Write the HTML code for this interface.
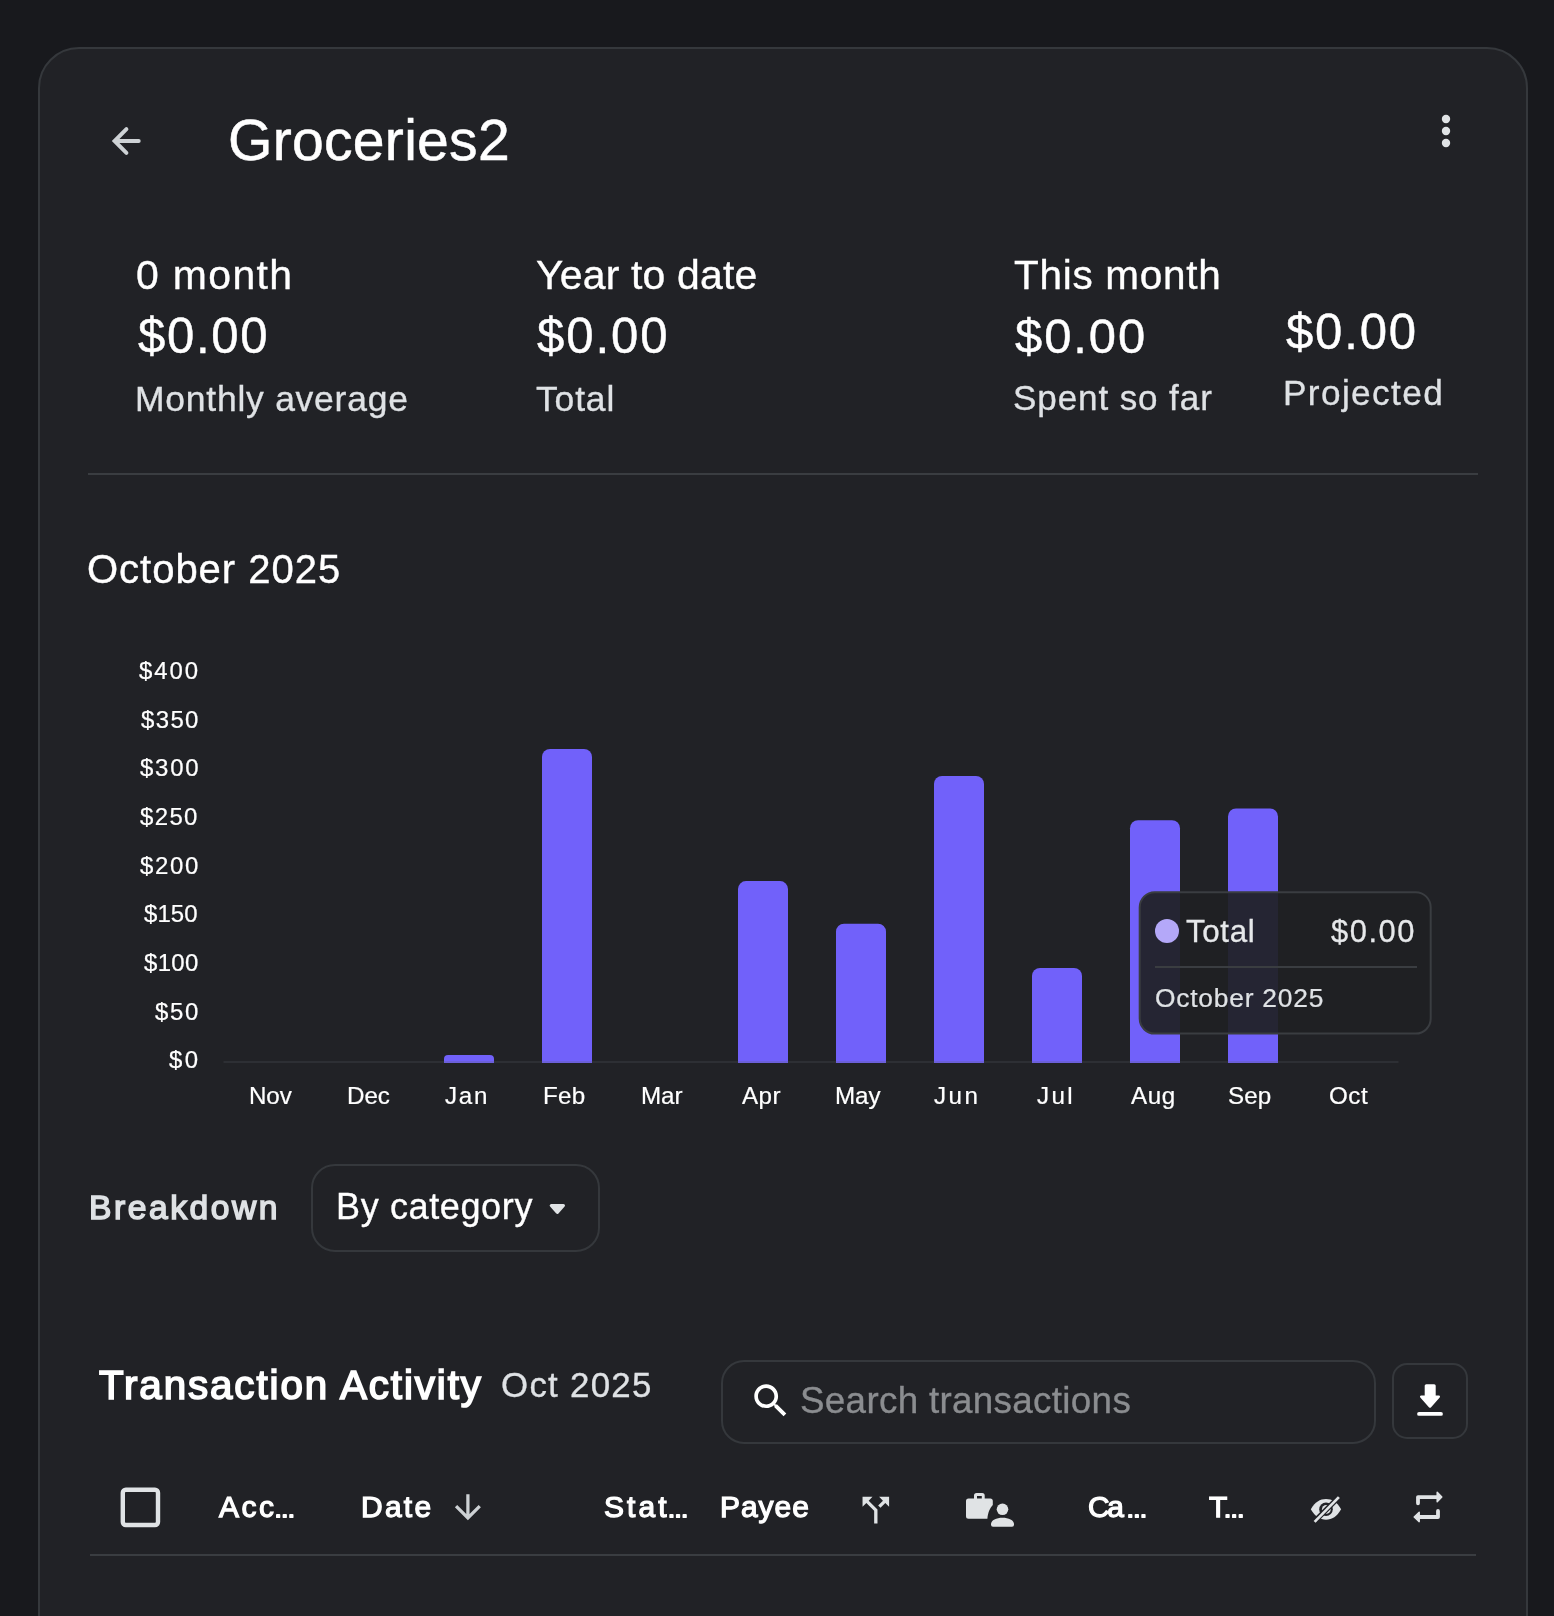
<!DOCTYPE html>
<html><head><meta charset="utf-8"><title>Groceries2</title>
<style>
html,body{margin:0;padding:0;}
body{width:1554px;height:1616px;overflow:hidden;background:#18191d;position:relative;font-family:"Liberation Sans",sans-serif;}
.card{position:absolute;left:38px;top:47px;width:1490px;height:1700px;box-sizing:border-box;border:2px solid #35383c;border-radius:41px;background:#212226;}
.t{position:absolute;white-space:nowrap;will-change:transform;}
.hr{position:absolute;height:2px;background:#3a3d41;}
.box{position:absolute;box-sizing:border-box;border:2px solid #35383c;}
svg.ov{position:absolute;left:0;top:0;}
</style></head>
<body>
<div class="card"></div>
<div class="hr" style="left:88px;top:473px;width:1390px"></div>
<div class="hr" style="left:90px;top:1554px;width:1386px"></div>
<div class="box" style="left:310.5px;top:1164px;width:289px;height:87.5px;border-radius:24px"></div>
<div class="box" style="left:721px;top:1360px;width:655px;height:84px;border-radius:23px"></div>
<div class="box" style="left:1392px;top:1363px;width:76px;height:76px;border-radius:15px"></div>
<svg class="ov" width="1554" height="1616" viewBox="0 0 1554 1616">
<!-- back arrow -->
<path d="M138.7 141 H116 M126.4 129.2 L114.6 141 L126.4 152.8" fill="none" stroke="#ced2d5" stroke-width="4" stroke-linecap="round" stroke-linejoin="miter"/>
<!-- more vert -->
<circle cx="1446" cy="119" r="4.2" fill="#e0e3e5"/><circle cx="1446" cy="131" r="4.2" fill="#e0e3e5"/><circle cx="1446" cy="143" r="4.2" fill="#e0e3e5"/>
<!-- bars -->
<path d="M444 1063 V1058.95 A4.05 4.05 0 0 1 448.05 1054.90 H489.95 A4.05 4.05 0 0 1 494 1058.95 V1063 Z" fill="#7161fa"/>
<path d="M542 1063 V757.00 A8.00 8.00 0 0 1 550.00 749.00 H584.00 A8.00 8.00 0 0 1 592 757.00 V1063 Z" fill="#7161fa"/>
<path d="M738 1063 V889.10 A8.00 8.00 0 0 1 746.00 881.10 H780.00 A8.00 8.00 0 0 1 788 889.10 V1063 Z" fill="#7161fa"/>
<path d="M836 1063 V931.70 A8.00 8.00 0 0 1 844.00 923.70 H878.00 A8.00 8.00 0 0 1 886 931.70 V1063 Z" fill="#7161fa"/>
<path d="M934 1063 V784.00 A8.00 8.00 0 0 1 942.00 776.00 H976.00 A8.00 8.00 0 0 1 984 784.00 V1063 Z" fill="#7161fa"/>
<path d="M1032 1063 V975.90 A8.00 8.00 0 0 1 1040.00 967.90 H1074.00 A8.00 8.00 0 0 1 1082 975.90 V1063 Z" fill="#7161fa"/>
<path d="M1130 1063 V828.20 A8.00 8.00 0 0 1 1138.00 820.20 H1172.00 A8.00 8.00 0 0 1 1180 828.20 V1063 Z" fill="#7161fa"/>
<path d="M1228 1063 V816.40 A8.00 8.00 0 0 1 1236.00 808.40 H1270.00 A8.00 8.00 0 0 1 1278 816.40 V1063 Z" fill="#7161fa"/>
<rect x="223.5" y="1061" width="1175" height="2" fill="rgba(90,94,105,0.22)"/>
<!-- tooltip -->
<rect x="1139.7" y="892.2" width="291" height="141.4" rx="15" fill="rgba(31,32,36,0.93)" stroke="#3a3d41" stroke-width="2"/>
<rect x="1155" y="966" width="262" height="2" fill="#3a3d41"/>
<circle cx="1167" cy="931" r="12" fill="#b4a8f9"/>
<!-- dropdown caret -->
<path d="M551.2 1205.6 H563.5 L557.35 1212.4 Z" fill="#e0e3e5" stroke="#e0e3e5" stroke-width="3" stroke-linejoin="round"/>
<!-- search icon -->
<g transform="translate(748.8 1378.8) scale(1.83)"><path fill="#ffffff" d="M15.5 14h-.79l-.28-.27C15.41 12.59 16 11.11 16 9.5 16 5.91 13.09 3 9.5 3S3 5.91 3 9.5 5.91 16 9.5 16c1.61 0 3.09-.59 4.23-1.57l.27.28v.79l5 4.99L20.49 19l-4.99-5zm-6 0C7.01 14 5 11.99 5 9.5S7.01 5 9.5 5 14 7.01 14 9.5 11.99 14 9.5 14z"/></g>
<!-- download icon -->
<rect x="1424.7" y="1384.2" width="11" height="14" rx="1.6" fill="#ffffff"/>
<path d="M1421.2 1396.6 H1438.8 L1430 1406.6 Z" fill="#ffffff" stroke="#ffffff" stroke-width="2.4" stroke-linejoin="round"/>
<rect x="1417.1" y="1412" width="25.8" height="3.8" rx="1.9" fill="#ffffff"/>
<!-- checkbox -->
<rect x="122.8" y="1489.7" width="35.2" height="35.3" rx="3" fill="none" stroke="#e0e3e5" stroke-width="4.4"/>
<!-- date arrow -->
<g transform="translate(448.4 1487.7) scale(1.625)"><path fill="#cdd1d4" d="M20 12l-1.41-1.41L13 16.17V4h-2v12.17l-5.58-5.59L4 12l8 8 8-8z"/></g>
<!-- split icon -->
<g transform="translate(855.9 1490.2) scale(1.66)"><path fill="#e0e3e5" d="M14 4l2.29 2.29-2.88 2.88 1.42 1.42 2.88-2.88L20 10V4zm-4 0H4v6l2.29-2.29 4.71 4.7V20h2v-8.41l-5.29-5.3z"/></g>
<!-- briefcase + person -->
<path fill="#e0e3e5" fill-rule="evenodd" d="M968.5 1498.4 H974 V1495.5 Q974 1493 976.5 1493 H982.2 Q984.7 1493 984.7 1495.5 V1498.4 H990.3 Q992.8 1498.4 992.8 1500.9 V1505 C990 1508 988 1512 987.4 1518.7 H968.5 Q966 1518.7 966 1516.2 V1500.9 Q966 1498.4 968.5 1498.4 Z M977 1495.9 V1498.4 H981.8 V1495.9 Z"/>
<circle cx="1002.5" cy="1509.3" r="5.8" fill="#e0e3e5"/>
<path fill="#e0e3e5" d="M991 1524 C991 1520 996.5 1517.7 1002.5 1517.7 C1008.5 1517.7 1014 1520 1014 1524 V1524.8 Q1014 1526.8 1012 1526.8 H993 Q991 1526.8 991 1524.8 Z"/>
<!-- eye slash -->
<path fill="#e0e3e5" d="M1310.8 1509.3 C1315 1502 1320 1499 1326 1499 C1332 1499 1337 1502 1341.1 1509.3 C1337 1516.6 1332 1519.7 1326 1519.7 C1320 1519.7 1315 1516.6 1310.8 1509.3 Z"/>
<circle cx="1326" cy="1509.2" r="6.8" fill="#212226"/>
<circle cx="1326.3" cy="1509.4" r="4.4" fill="#e0e3e5"/>
<line x1="1339.6" y1="1496.4" x2="1313.6" y2="1522.4" stroke="#212226" stroke-width="5.2"/>
<line x1="1338.9" y1="1497.1" x2="1314.6" y2="1521.9" stroke="#e0e3e5" stroke-width="2.7"/>
<!-- repeat -->
<path d="M1418 1503.3 V1497.1 H1437.5 M1438 1511 V1517 H1418.5" fill="none" stroke="#e0e3e5" stroke-width="3.8" stroke-linecap="round" stroke-linejoin="round"/>
<path d="M1437.2 1492.3 L1441.8 1497.1 L1437.2 1501.8 Z" fill="#e0e3e5" stroke="#e0e3e5" stroke-width="1.5" stroke-linejoin="round"/>
<path d="M1419.2 1512.2 L1414.2 1517 L1419.2 1521.6 Z" fill="#e0e3e5" stroke="#e0e3e5" stroke-width="1.5" stroke-linejoin="round"/>
<rect x="276.0" y="1513.9" width="4.3" height="4.2" rx="0.9" fill="#ffffff"/>
<rect x="282.6" y="1513.9" width="4.3" height="4.2" rx="0.9" fill="#ffffff"/>
<rect x="289.2" y="1513.9" width="4.3" height="4.2" rx="0.9" fill="#ffffff"/>
<rect x="669.3" y="1513.9" width="4.3" height="4.2" rx="0.9" fill="#ffffff"/>
<rect x="675.9" y="1513.9" width="4.3" height="4.2" rx="0.9" fill="#ffffff"/>
<rect x="682.5" y="1513.9" width="4.3" height="4.2" rx="0.9" fill="#ffffff"/>
<rect x="1128.1" y="1513.9" width="4.3" height="4.2" rx="0.9" fill="#ffffff"/>
<rect x="1134.7" y="1513.9" width="4.3" height="4.2" rx="0.9" fill="#ffffff"/>
<rect x="1141.3" y="1513.9" width="4.3" height="4.2" rx="0.9" fill="#ffffff"/>
<rect x="1225.4" y="1513.9" width="4.3" height="4.2" rx="0.9" fill="#ffffff"/>
<rect x="1232.0" y="1513.9" width="4.3" height="4.2" rx="0.9" fill="#ffffff"/>
<rect x="1238.6" y="1513.9" width="4.3" height="4.2" rx="0.9" fill="#ffffff"/>
</svg>
<div class="t" style="left:227.90px;top:111.74px;font-size:57.11px;line-height:57.11px;font-weight:400;color:#ffffff;-webkit-text-stroke:0.52px #ffffff;letter-spacing:0.267px;">Groceries2</div>
<div class="t" style="left:136.35px;top:255.43px;font-size:40.91px;line-height:40.91px;font-weight:400;color:#ffffff;-webkit-text-stroke:0.37px #ffffff;letter-spacing:1.371px;">0 month</div>
<div class="t" style="left:137.53px;top:312.08px;font-size:49.07px;line-height:49.07px;font-weight:400;color:#ffffff;-webkit-text-stroke:0.45px #ffffff;letter-spacing:1.684px;">$0.00</div>
<div class="t" style="left:135.12px;top:381.65px;font-size:35.48px;line-height:35.48px;font-weight:400;color:#dfe2e5;-webkit-text-stroke:0.32px #dfe2e5;letter-spacing:0.761px;">Monthly average</div>
<div class="t" style="left:536.37px;top:255.43px;font-size:40.91px;line-height:40.91px;font-weight:400;color:#ffffff;-webkit-text-stroke:0.37px #ffffff;letter-spacing:0.200px;">Year to date</div>
<div class="t" style="left:536.73px;top:312.08px;font-size:49.07px;line-height:49.07px;font-weight:400;color:#ffffff;-webkit-text-stroke:0.45px #ffffff;letter-spacing:1.959px;">$0.00</div>
<div class="t" style="left:536.45px;top:381.65px;font-size:35.48px;line-height:35.48px;font-weight:400;color:#dfe2e5;-webkit-text-stroke:0.32px #dfe2e5;letter-spacing:0.840px;">Total</div>
<div class="t" style="left:1014.18px;top:255.12px;font-size:40.48px;line-height:40.48px;font-weight:400;color:#ffffff;-webkit-text-stroke:0.37px #ffffff;letter-spacing:0.734px;">This month</div>
<div class="t" style="left:1015.14px;top:311.99px;font-size:48.93px;line-height:48.93px;font-weight:400;color:#ffffff;-webkit-text-stroke:0.45px #ffffff;letter-spacing:1.946px;">$0.00</div>
<div class="t" style="left:1013.41px;top:380.35px;font-size:35.04px;line-height:35.04px;font-weight:400;color:#dfe2e5;-webkit-text-stroke:0.32px #dfe2e5;letter-spacing:0.900px;">Spent so far</div>
<div class="t" style="left:1285.73px;top:307.58px;font-size:49.07px;line-height:49.07px;font-weight:400;color:#ffffff;-webkit-text-stroke:0.45px #ffffff;letter-spacing:1.809px;">$0.00</div>
<div class="t" style="left:1283.34px;top:375.45px;font-size:35.19px;line-height:35.19px;font-weight:400;color:#dfe2e5;-webkit-text-stroke:0.32px #dfe2e5;letter-spacing:1.389px;">Projected</div>
<div class="t" style="left:87.48px;top:549.02px;font-size:40.04px;line-height:40.04px;font-weight:400;color:#ffffff;-webkit-text-stroke:0.37px #ffffff;letter-spacing:0.961px;">October 2025</div>
<div class="t" style="left:1185.82px;top:916.07px;font-size:31.32px;line-height:31.32px;font-weight:400;color:#e6e8ea;-webkit-text-stroke:0.29px #e6e8ea;letter-spacing:0.633px;">Total</div>
<div class="t" style="left:1331.13px;top:917.07px;font-size:30.89px;line-height:30.89px;font-weight:400;color:#e6e8ea;-webkit-text-stroke:0.28px #e6e8ea;letter-spacing:1.535px;">$0.00</div>
<div class="t" style="left:1154.90px;top:984.89px;font-size:26.37px;line-height:26.37px;font-weight:400;color:#dfe2e5;-webkit-text-stroke:0.24px #dfe2e5;letter-spacing:0.784px;">October 2025</div>
<div class="t" style="left:88.86px;top:1190.96px;font-size:33.62px;line-height:33.62px;font-weight:400;color:#dfe2e5;-webkit-text-stroke:1.5px #dfe2e5;letter-spacing:2.549px;">Breakdown</div>
<div class="t" style="left:335.78px;top:1189.35px;font-size:36.04px;line-height:36.04px;font-weight:400;color:#ffffff;-webkit-text-stroke:0.33px #ffffff;letter-spacing:0.614px;">By category</div>
<div class="t" style="left:99.24px;top:1366.36px;font-size:40.29px;line-height:40.29px;font-weight:400;color:#ffffff;-webkit-text-stroke:1.7px #ffffff;letter-spacing:1.917px;">Transaction Activity</div>
<div class="t" style="left:500.62px;top:1368.25px;font-size:34.83px;line-height:34.83px;font-weight:400;color:#dfe2e5;-webkit-text-stroke:0.32px #dfe2e5;letter-spacing:1.287px;">Oct 2025</div>
<div class="t" style="left:800.33px;top:1383.43px;font-size:36.75px;line-height:36.75px;font-weight:400;color:#8b8d90;-webkit-text-stroke:0.34px #8b8d90;letter-spacing:0.331px;">Search transactions</div>
<div class="t" style="left:218.62px;top:1492.48px;font-size:29.93px;line-height:29.93px;font-weight:400;color:#ffffff;-webkit-text-stroke:1.25px #ffffff;letter-spacing:2.534px;">Acc</div>
<div class="t" style="left:361.33px;top:1492.48px;font-size:29.93px;line-height:29.93px;font-weight:400;color:#ffffff;-webkit-text-stroke:1.25px #ffffff;letter-spacing:2.298px;">Date</div>
<div class="t" style="left:604.03px;top:1492.48px;font-size:29.93px;line-height:29.93px;font-weight:400;color:#ffffff;-webkit-text-stroke:1.25px #ffffff;letter-spacing:3.092px;">Stat</div>
<div class="t" style="left:720.33px;top:1492.48px;font-size:29.93px;line-height:29.93px;font-weight:400;color:#ffffff;-webkit-text-stroke:1.25px #ffffff;letter-spacing:1.012px;">Payee</div>
<div class="t" style="left:1088.43px;top:1492.48px;font-size:29.93px;line-height:29.93px;font-weight:400;color:#ffffff;-webkit-text-stroke:1.25px #ffffff;letter-spacing:-2.461px;">Ca</div>
<div class="t" style="left:1208.83px;top:1492.48px;font-size:29.93px;line-height:29.93px;font-weight:400;color:#ffffff;-webkit-text-stroke:1.25px #ffffff;">T</div>
<div class="t" style="left:138.62px;top:658.80px;font-size:23.97px;line-height:23.97px;font-weight:400;color:#ffffff;-webkit-text-stroke:0.22px #ffffff;letter-spacing:1.891px;">$400</div>
<div class="t" style="left:140.67px;top:707.50px;font-size:23.97px;line-height:23.97px;font-weight:400;color:#ffffff;-webkit-text-stroke:0.22px #ffffff;letter-spacing:1.374px;">$350</div>
<div class="t" style="left:140.47px;top:756.21px;font-size:23.97px;line-height:23.97px;font-weight:400;color:#ffffff;-webkit-text-stroke:0.22px #ffffff;letter-spacing:1.741px;">$300</div>
<div class="t" style="left:140.47px;top:804.90px;font-size:23.97px;line-height:23.97px;font-weight:400;color:#ffffff;-webkit-text-stroke:0.22px #ffffff;letter-spacing:1.374px;">$250</div>
<div class="t" style="left:140.47px;top:853.60px;font-size:23.97px;line-height:23.97px;font-weight:400;color:#ffffff;-webkit-text-stroke:0.22px #ffffff;letter-spacing:1.641px;">$200</div>
<div class="t" style="left:144.37px;top:902.30px;font-size:23.97px;line-height:23.97px;font-weight:400;color:#ffffff;-webkit-text-stroke:0.22px #ffffff;letter-spacing:0.107px;">$150</div>
<div class="t" style="left:144.37px;top:951.00px;font-size:23.97px;line-height:23.97px;font-weight:400;color:#ffffff;-webkit-text-stroke:0.22px #ffffff;letter-spacing:0.341px;">$100</div>
<div class="t" style="left:154.77px;top:999.71px;font-size:23.97px;line-height:23.97px;font-weight:400;color:#ffffff;-webkit-text-stroke:0.22px #ffffff;letter-spacing:1.673px;">$50</div>
<div class="t" style="left:168.67px;top:1048.40px;font-size:23.97px;line-height:23.97px;font-weight:400;color:#ffffff;-webkit-text-stroke:0.22px #ffffff;letter-spacing:2.470px;">$0</div>
<div class="t" style="left:248.68px;top:1083.80px;font-size:24.17px;line-height:24.17px;font-weight:400;color:#ffffff;-webkit-text-stroke:0.22px #ffffff;letter-spacing:-0.087px;">Nov</div>
<div class="t" style="left:346.58px;top:1083.80px;font-size:24.17px;line-height:24.17px;font-weight:400;color:#ffffff;-webkit-text-stroke:0.22px #ffffff;letter-spacing:-0.045px;">Dec</div>
<div class="t" style="left:445.43px;top:1083.80px;font-size:24.17px;line-height:24.17px;font-weight:400;color:#ffffff;-webkit-text-stroke:0.22px #ffffff;letter-spacing:1.697px;">Jan</div>
<div class="t" style="left:543.38px;top:1083.80px;font-size:24.17px;line-height:24.17px;font-weight:400;color:#ffffff;-webkit-text-stroke:0.22px #ffffff;letter-spacing:0.301px;">Feb</div>
<div class="t" style="left:641.38px;top:1083.80px;font-size:24.17px;line-height:24.17px;font-weight:400;color:#ffffff;-webkit-text-stroke:0.22px #ffffff;letter-spacing:-0.012px;">Mar</div>
<div class="t" style="left:741.61px;top:1083.80px;font-size:24.17px;line-height:24.17px;font-weight:400;color:#ffffff;-webkit-text-stroke:0.22px #ffffff;letter-spacing:0.476px;">Apr</div>
<div class="t" style="left:835.18px;top:1083.80px;font-size:24.17px;line-height:24.17px;font-weight:400;color:#ffffff;-webkit-text-stroke:0.22px #ffffff;letter-spacing:-0.087px;">May</div>
<div class="t" style="left:934.43px;top:1083.80px;font-size:24.17px;line-height:24.17px;font-weight:400;color:#ffffff;-webkit-text-stroke:0.22px #ffffff;letter-spacing:2.497px;">Jun</div>
<div class="t" style="left:1037.33px;top:1083.80px;font-size:24.17px;line-height:24.17px;font-weight:400;color:#ffffff;-webkit-text-stroke:0.22px #ffffff;letter-spacing:2.357px;">Jul</div>
<div class="t" style="left:1130.61px;top:1083.80px;font-size:24.17px;line-height:24.17px;font-weight:400;color:#ffffff;-webkit-text-stroke:0.22px #ffffff;letter-spacing:0.600px;">Aug</div>
<div class="t" style="left:1228.40px;top:1083.80px;font-size:24.17px;line-height:24.17px;font-weight:400;color:#ffffff;-webkit-text-stroke:0.22px #ffffff;letter-spacing:0.063px;">Sep</div>
<div class="t" style="left:1328.50px;top:1083.80px;font-size:24.17px;line-height:24.17px;font-weight:400;color:#ffffff;-webkit-text-stroke:0.22px #ffffff;letter-spacing:0.510px;">Oct</div>
</body></html>
